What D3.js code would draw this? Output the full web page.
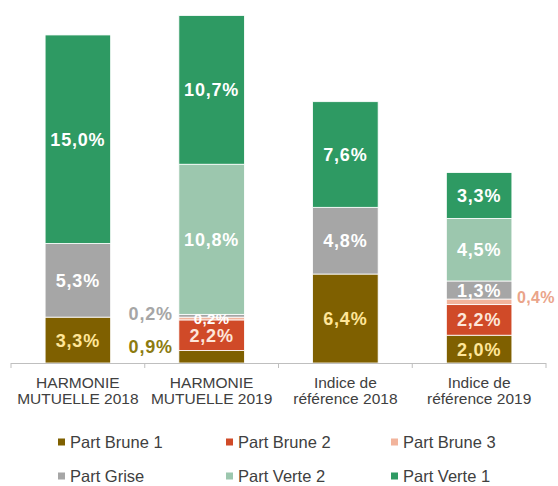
<!DOCTYPE html>
<html>
<head>
<meta charset="utf-8">
<script src="https://cdn.jsdelivr.net/npm/d3@7"></script>
<style>
  body { margin: 0; background: #fff; }
  svg { display: block; font-family: Arial, "Liberation Sans", sans-serif; }
</style>
</head>
<body>
<svg id="chart" width="558" height="486"></svg>
<script>
// data
const categories = ["HARMONIE MUTUELLE 2018", "HARMONIE MUTUELLE 2019", "Indice de référence 2018", "Indice de référence 2019"];
const categoryLines = [["HARMONIE", "MUTUELLE 2018"], ["HARMONIE", "MUTUELLE 2019"], ["Indice de", "référence 2018"], ["Indice de", "référence 2019"]];
const seriesNames = ["Part Brune 1", "Part Brune 2", "Part Brune 3", "Part Grise", "Part Verte 2", "Part Verte 1"];
const brune1 = [3.3, 0.9, 6.4, 2.0];
const brune2 = [0, 2.2, 0, 2.2];
const brune3 = [0, 0.2, 0, 0.4];
const grise = [5.3, 0.2, 4.8, 1.3];
const verte2 = [0, 10.8, 0, 4.5];
const verte1 = [15.0, 10.7, 7.6, 3.3];
const legendOrder = ["Part Brune 1", "Part Brune 2", "Part Brune 3", "Part Grise", "Part Verte 2", "Part Verte 1"];

const seriesValues = [brune1, brune2, brune3, grise, verte2, verte1];
const colors = ["#7f6000", "#d04a28", "#f2b49c", "#a6a6a6", "#9cc7ae", "#2e9a63"];
const labelColors = ["#ffe699", "#fde6da", "#ffffff", "#ffffff", "#ffffff", "#ffffff"];

const rows = categories.map((c, i) => {
  const r = { cat: c };
  seriesNames.forEach((s, j) => r[s] = seriesValues[j][i]);
  return r;
});

const svg = d3.select("#chart");
const baseY = 363;

const x = d3.scaleBand().domain(categories).range([11, 546]).padding(0);
const barW = x.bandwidth() * 0.49;
const y = d3.scaleLinear().domain([0, 26]).range([baseY, baseY - 26 * 13.9]);
const color = d3.scaleOrdinal().domain(seriesNames).range(colors);

const stacked = d3.stack().keys(seriesNames)(rows);

// bars
const layers = svg.append("g").selectAll("g")
  .data(stacked)
  .enter().append("g")
    .attr("fill", d => color(d.key));

layers.selectAll("rect")
  .data(d => d.map(p => ({ p, key: d.key })))
  .enter().append("rect")
    .filter(d => d.p[1] - d.p[0] > 0)
    .attr("x", d => x(d.p.data.cat) + (x.bandwidth() - barW) / 2)
    .attr("y", d => y(d.p[1]))
    .attr("width", barW)
    .attr("height", d => y(d.p[0]) - y(d.p[1]))
    .attr("stroke", "#fff")
    .attr("stroke-width", 0.8);

// axis
const axis = svg.append("g");
axis.append("line")
  .attr("x1", x.range()[0]).attr("x2", x.range()[1])
  .attr("y1", baseY + 0.5).attr("y2", baseY + 0.5)
  .attr("stroke", "#bfbfbf").attr("stroke-width", 1);
axis.selectAll(".tick")
  .data(categories.map(c => x(c)).concat([x.range()[1]]))
  .enter().append("line")
    .attr("x1", d => d).attr("x2", d => d)
    .attr("y1", baseY).attr("y2", baseY + 5)
    .attr("stroke", "#bfbfbf");

// category labels
const catText = svg.append("g").selectAll("text")
  .data(categories)
  .enter().append("text")
    .attr("x", d => x(d) + x.bandwidth() / 2)
    .attr("text-anchor", "middle")
    .attr("fill", "#404040")
    .style("font-size", "15.5px");
catText.each(function(d, i) {
  d3.select(this).selectAll("tspan")
    .data(categoryLines[i])
    .enter().append("tspan")
      .attr("x", x(d) + x.bandwidth() / 2)
      .attr("y", (t, k) => 388 + k * 15.5)
      .text(t => t);
});

// value labels
const fmt = v => v.toFixed(1).replace(".", ",") + "%";
const labels = svg.append("g")
  .style("font-size", "18px")
  .style("font-weight", "bold")
  .style("letter-spacing", "0.8px");

stacked.forEach((layer, j) => {
  layer.forEach(p => {
    const v = p[1] - p[0];
    if (v <= 0) return;
    const cx = x(p.data.cat) + x.bandwidth() / 2;
    let cy = (y(p[0]) + y(p[1])) / 2;
    let tx = cx, anchor = "middle", fill = labelColors[j], size = null;
    // small slices get their label beside the bar
    if (v < 1 && !(layer.key === "Part Brune 3" && p.data.cat === categories[1])) {
      const left = p.data.cat === categories[1];
      tx = left ? cx - barW / 2 - 6 : cx + barW / 2 + 5;
      anchor = left ? "end" : "start";
      if (layer.key === "Part Brune 1") { fill = "#8c7b10"; cy -= 10; }
      else if (layer.key === "Part Grise") { fill = "#a6a6a6"; cy -= 2; }
      else { fill = "#eaa48a"; cy -= 5; size = "16px"; }
    } else if (v < 1) {
      size = "15px";
    }
    const t = labels.append("text")
      .attr("x", tx)
      .attr("y", cy)
      .attr("dy", "0.36em")
      .attr("text-anchor", anchor)
      .attr("fill", fill)
      .text(fmt(v));
    if (size) t.style("font-size", size).style("letter-spacing", "0.4px");
  });
});

// legend
const legX = [58, 226, 391];
const legY = [442, 476];
const legend = svg.append("g").selectAll("g")
  .data(legendOrder)
  .enter().append("g")
    .attr("transform", (d, i) => `translate(${legX[i % 3]},${legY[Math.floor(i / 3)]})`);
legend.append("rect")
  .attr("x", 0).attr("y", -3.5)
  .attr("width", 7).attr("height", 7)
  .attr("fill", d => color(d));
legend.append("text")
  .attr("x", 12)
  .attr("dy", "0.36em")
  .attr("fill", "#404040")
  .style("font-size", "16.5px")
  .text(d => d);
</script>
</body>
</html>
